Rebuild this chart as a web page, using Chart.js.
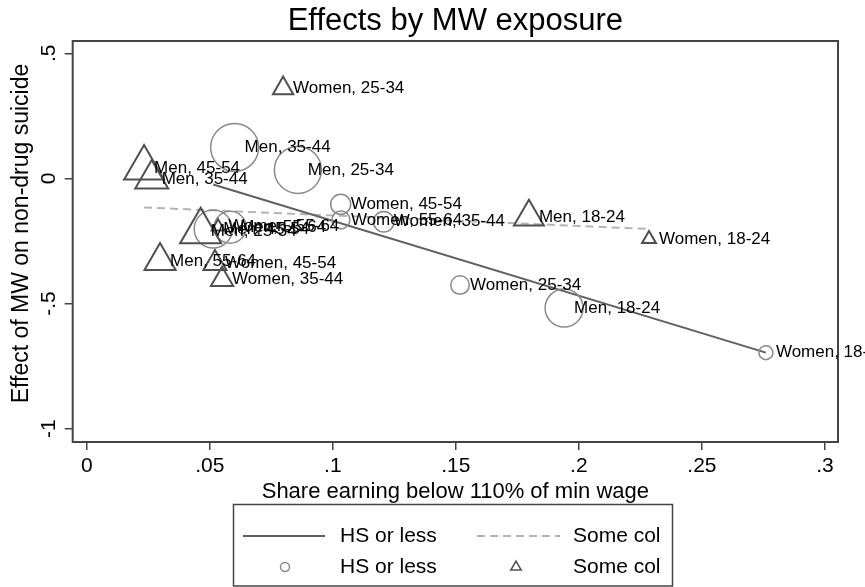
<!DOCTYPE html>
<html>
<head>
<meta charset="utf-8">
<title>Effects by MW exposure</title>
<script src="https://cdn.jsdelivr.net/npm/chart.js@4.4.0/dist/chart.umd.min.js"></script>
<style>
  html, body { margin: 0; padding: 0; background: #fff; }
</style>
</head>
<body>
<canvas id="chart" width="865" height="587"></canvas>
<script>
// groups, same order in both series
const groups = ['Men, 18-24', 'Men, 25-34', 'Men, 35-44', 'Men, 45-54', 'Men, 55-64',
                'Women, 18-24', 'Women, 25-34', 'Women, 35-44', 'Women, 45-54', 'Women, 55-64'];

// HS or less (circles)
const hsShare  = [0.194, 0.0858, 0.0601, 0.0514, 0.0583, 0.276, 0.1517, 0.1207, 0.1032, 0.1033];
const hsEffect = [-0.518, 0.034, 0.124, -0.202, -0.195, -0.696, -0.426, -0.173, -0.1035, -0.166];
const hsWeight = [3.61, 5.52, 5.76, 3.61, 2.56, 0.49, 0.86, 1.06, 1.0, 0.81];

// Some col (triangles)
const scShare  = [0.1797, 0.0463, 0.0264, 0.0233, 0.0298, 0.2285, 0.0798, 0.0550, 0.0521, 0.0534];
const scEffect = [-0.154, -0.212, -0.002, 0.042, -0.330, -0.242, 0.360, -0.404, -0.339, -0.193];
const scWeight = [2.99, 5.62, 3.61, 5.29, 3.24, 0.64, 1.37, 1.66, 1.77, 0.56];

// fitted lines, end points
const hsFitX = [0.0514, 0.276];
const hsFitY = [-0.0244, -0.696];
const scFitX = [0.0233, 0.2285];
const scFitY = [-0.116, -0.202];

const xTicks = [0, 0.05, 0.1, 0.15, 0.2, 0.25, 0.3];
const yTicks = [-1, -0.5, 0, 0.5];

const FONT = '"Liberation Sans", Arial, Helvetica, sans-serif';
Chart.defaults.font.family = FONT;
Chart.defaults.color = '#000';

const hsColor = '#8a8a8a', scColor = '#505050';
const hsLineColor = '#606060', scLineColor = '#b4b4b4';

// stata style numbers: .05, -.5
function fmt(v) {
  return String(v).replace(/^(-?)0\./, '$1.');
}

function pts(xs, ys) {
  return xs.map((x, i) => ({ x: x, y: ys[i] }));
}

const markerLabels = {
  id: 'markerLabels',
  afterDatasetsDraw(chart) {
    const ctx = chart.ctx;
    ctx.save();
    ctx.font = '17px ' + FONT;
    ctx.fillStyle = '#000';
    ctx.textAlign = 'left';
    ctx.textBaseline = 'middle';
    [1, 0].forEach(di => {
      chart.getDatasetMeta(di).data.forEach((p, i) => {
        ctx.fillText(groups[i], p.x + 10, p.y);
      });
    });
    ctx.restore();
  }
};

const plotBox = {
  id: 'plotBox',
  beforeDatasetsDraw(chart) {
    const a = chart.chartArea, ctx = chart.ctx;
    ctx.save();
    ctx.strokeStyle = '#444';
    ctx.lineWidth = 2;
    ctx.strokeRect(a.left, a.top, a.right - a.left, a.bottom - a.top);
    ctx.restore();
  },
  // y title drawn here, sits a bit above the plot middle like the original
  afterDraw(chart) {
    const a = chart.chartArea, ctx = chart.ctx;
    ctx.save();
    ctx.translate(22, (a.top + a.bottom) / 2 - 8);
    ctx.rotate(-Math.PI / 2);
    ctx.font = '23px ' + FONT;
    ctx.fillStyle = '#000';
    ctx.textAlign = 'center';
    ctx.textBaseline = 'middle';
    ctx.fillText('Effect of MW on non-drug suicide', 0, 0);
    ctx.restore();
  }
};

const boxLegend = {
  id: 'boxLegend',
  afterDraw(chart) {
    const ctx = chart.ctx;
    const r1 = 536, r2 = 567;
    ctx.save();
    ctx.strokeStyle = '#444';
    ctx.lineWidth = 1.5;
    ctx.strokeRect(233.5, 504.5, 439, 81.5);

    ctx.lineWidth = 2;
    ctx.strokeStyle = hsLineColor;
    ctx.beginPath(); ctx.moveTo(243, r1); ctx.lineTo(325, r1); ctx.stroke();
    ctx.strokeStyle = scLineColor;
    ctx.setLineDash([8, 5]);
    ctx.beginPath(); ctx.moveTo(477, r1); ctx.lineTo(560, r1); ctx.stroke();
    ctx.setLineDash([]);

    ctx.lineWidth = 1.5;
    ctx.strokeStyle = hsColor;
    ctx.beginPath(); ctx.arc(285, r2, 4.5, 0, Math.PI * 2); ctx.stroke();
    ctx.strokeStyle = scColor;
    ctx.beginPath();
    for (let k = 0; k < 3; k++) {
      const ang = k * 2 * Math.PI / 3;
      const px = 516 + Math.sin(ang) * 6, py = r2 - Math.cos(ang) * 6;
      if (k === 0) ctx.moveTo(px, py); else ctx.lineTo(px, py);
    }
    ctx.closePath(); ctx.stroke();

    ctx.font = '21px ' + FONT;
    ctx.fillStyle = '#000';
    ctx.textAlign = 'left';
    ctx.textBaseline = 'middle';
    ctx.fillText('HS or less', 340, r1);
    ctx.fillText('Some col', 573, r1);
    ctx.fillText('HS or less', 340, r2);
    ctx.fillText('Some col', 573, r2);
    ctx.restore();
  }
};

new Chart(document.getElementById('chart'), {
  type: 'scatter',
  data: {
    datasets: [{
      label: 'Some col',
      data: pts(scShare, scEffect),
      pointStyle: 'triangle',
      pointRadius: ctx => 10 * Math.sqrt(scWeight[ctx.dataIndex]),
      backgroundColor: 'rgba(0,0,0,0)',
      borderColor: scColor,
      pointBorderWidth: 2
    }, {
      label: 'HS or less',
      data: pts(hsShare, hsEffect),
      pointStyle: 'circle',
      pointRadius: ctx => 10 * Math.sqrt(hsWeight[ctx.dataIndex]),
      backgroundColor: 'rgba(0,0,0,0)',
      borderColor: hsColor,
      pointBorderWidth: 1.5
    }, {
      type: 'line',
      label: 'HS or less',
      data: pts(hsFitX, hsFitY),
      borderColor: hsLineColor,
      borderWidth: 2,
      pointRadius: 0,
      fill: false
    }, {
      type: 'line',
      label: 'Some col',
      data: pts(scFitX, scFitY),
      borderColor: scLineColor,
      borderWidth: 2,
      borderDash: [8, 5],
      pointRadius: 0,
      fill: false
    }]
  },
  options: {
    responsive: false,
    animation: false,
    devicePixelRatio: 1,
    events: [],
    layout: { padding: { top: 0, left: 0, right: 27, bottom: 0 } },
    plugins: {
      legend: { display: false },
      tooltip: { enabled: false },
      title: {
        display: true,
        text: 'Effects by MW exposure',
        fullSize: false,
        color: '#000',
        font: { size: 31, weight: 'normal' },
        padding: { top: 2.5, bottom: 1.3 }
      }
    },
    scales: {
      x: {
        type: 'linear',
        min: -0.0057,
        max: 0.3053,
        afterBuildTicks: s => { s.ticks = xTicks.map(v => ({ value: v })); },
        afterFit: s => { s.height = 145; },
        border: { display: false },
        grid: { drawOnChartArea: false, drawTicks: true, tickLength: 8, color: '#444', lineWidth: 1.5 },
        ticks: { font: { size: 21 }, color: '#000', padding: 4, maxRotation: 0, autoSkip: false, callback: v => fmt(v) },
        title: {
          display: true,
          text: 'Share earning below 110% of min wage',
          color: '#000',
          font: { size: 22 },
          padding: { top: 0, bottom: 82 }
        }
      },
      y: {
        type: 'linear',
        min: -1.053,
        max: 0.549,
        afterBuildTicks: s => { s.ticks = yTicks.map(v => ({ value: v })); },
        afterFit: s => { s.width = 72.7; },
        border: { display: false },
        grid: { drawOnChartArea: false, drawTicks: true, tickLength: 8, color: '#444', lineWidth: 1.5 },
        ticks: { font: { size: 21 }, color: '#000', minRotation: 90, maxRotation: 90, crossAlign: 'center', padding: 3.5, callback: v => fmt(v) },
        title: { display: false }
      }
    }
  },
  plugins: [plotBox, markerLabels, boxLegend]
});
</script>
</body>
</html>
